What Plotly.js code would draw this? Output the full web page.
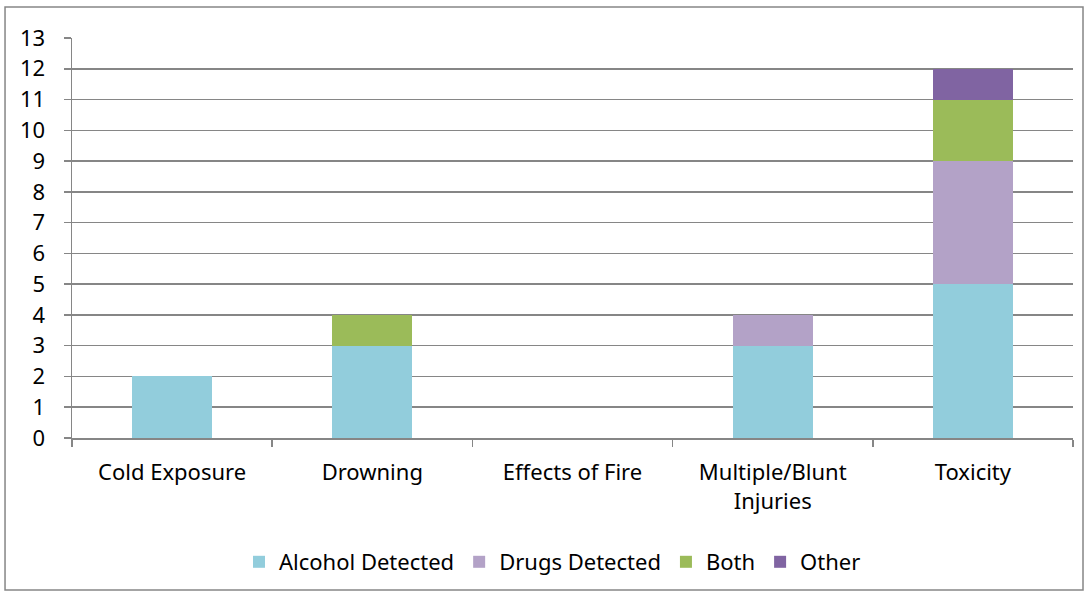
<!DOCTYPE html>
<html>
<head>
<meta charset="utf-8">
<script src="https://cdn.plot.ly/plotly-3.0.1.min.js"></script>
<style>
html,body{margin:0;padding:0;background:#fff;}
#chart{width:1088px;height:597px;}
</style>
</head>
<body>
<div id="chart"></div>
<script>
const categories = ["Cold Exposure", "Drowning", "Effects of Fire", "Multiple/Blunt<br>Injuries", "Toxicity"];
const alcoholDetected = [2, 3, 0, 3, 5];
const drugsDetected = [0, 0, 0, 1, 4];
const both = [0, 1, 0, 0, 2];
const other = [0, 0, 0, 0, 1];
const yTicks = [0,1,2,3,4,5,6,7,8,9,10,11,12,13];

const series = [
  {name: "Alcohol Detected", y: alcoholDetected, color: "#92CDDC"},
  {name: "Drugs Detected", y: drugsDetected, color: "#B3A2C7"},
  {name: "Both", y: both, color: "#9BBB59"},
  {name: "Other", y: other, color: "#8064A2"}
];

const traces = series.map(s => ({
  type: "bar",
  name: s.name,
  x: categories,
  y: s.y,
  marker: {color: s.color, line: {width: 0}},
  hoverinfo: "skip"
}));

const font = {family: "Noto Sans, Open Sans, sans-serif", size: 22, color: "#000"};

const layout = {
  width: 1088,
  height: 597,
  barmode: "stack",
  bargap: 0.6,
  margin: {l: 72, r: 15, t: 38, b: 159},
  paper_bgcolor: "#fff",
  plot_bgcolor: "#fff",
  font: font,
  showlegend: true,
  legend: {
    orientation: "h",
    x: 0.48, xanchor: "center",
    y: -0.31, yanchor: "middle",
    font: {family: font.family, size: 22, color: "#000"},
    itemwidth: 20,
    traceorder: "normal"
  },
  xaxis: {
    type: "category",
    showgrid: false,
    showline: true,
    linecolor: "#868686",
    linewidth: 1.5,
    ticks: "outside",
    tickson: "boundaries",
    ticklen: 7,
    tickcolor: "#868686",
    tickwidth: 1.5,
    tickfont: font,
    ticklabelstandoff: 14,
    zeroline: false,
    fixedrange: true
  },
  yaxis: {
    range: [0, 13],
    tickvals: yTicks,
    ticktext: yTicks.map(String),
    showgrid: true,
    gridcolor: "#868686",
    gridwidth: 1.5,
    showline: true,
    linecolor: "#868686",
    linewidth: 1.5,
    ticks: "outside",
    ticklen: 7,
    tickcolor: "#868686",
    tickwidth: 1.5,
    tickfont: font,
    ticklabelstandoff: 14,
    zeroline: false,
    fixedrange: true
  },
  shapes: [{
    type: "rect", xref: "paper", yref: "paper",
    x0: -0.0669, x1: 1.01, y0: -0.38, y1: 1.0775,
    line: {color: "#868686", width: 1.5},
    fillcolor: "rgba(0,0,0,0)", layer: "below"
  }]
};

Plotly.newPlot("chart", traces, layout, {displayModeBar: false, staticPlot: true});
</script>
</body>
</html>
